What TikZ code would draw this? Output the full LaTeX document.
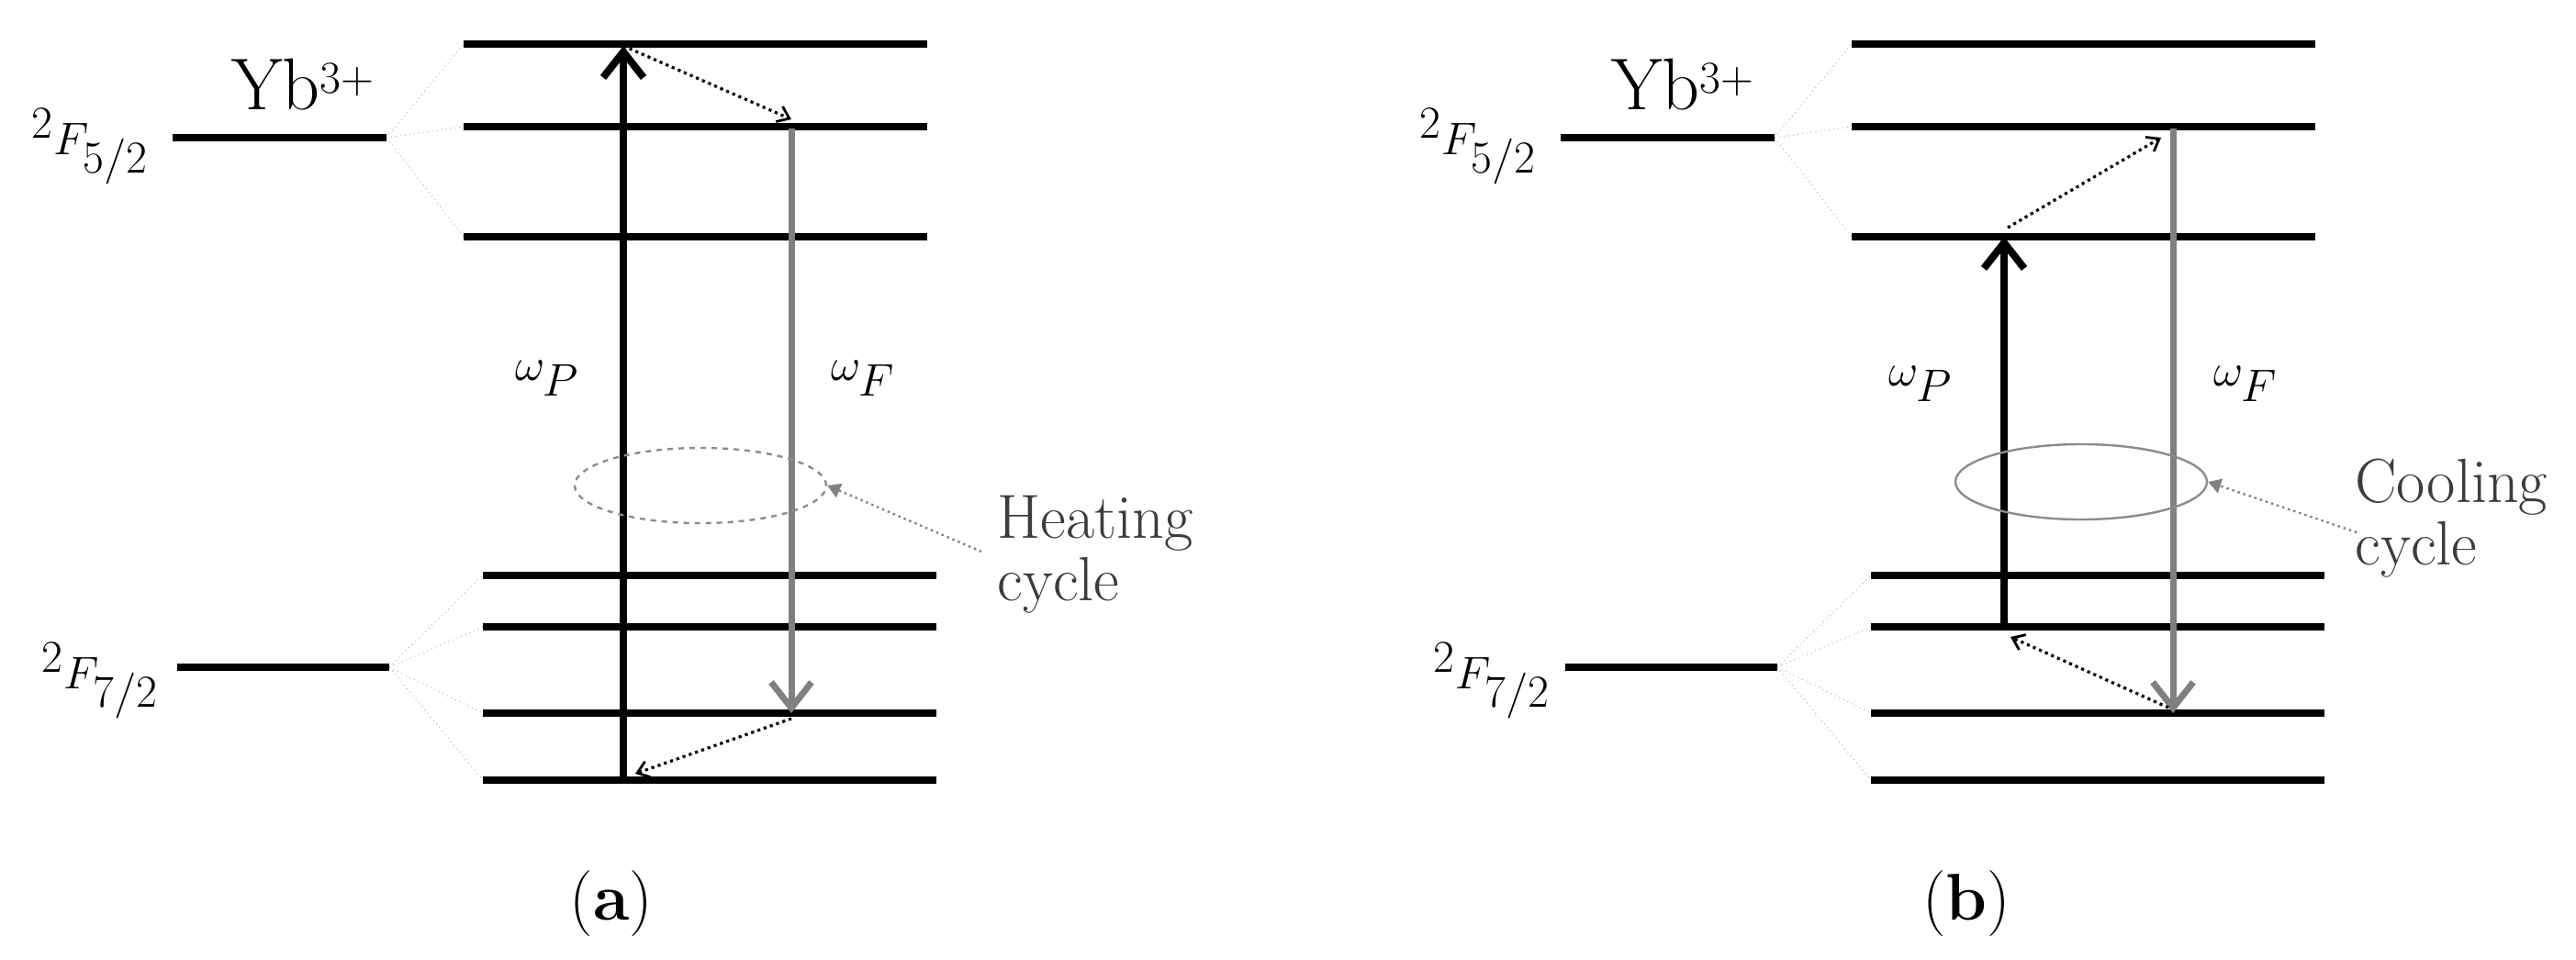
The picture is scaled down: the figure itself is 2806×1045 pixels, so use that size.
\documentclass[tikz,border=0pt]{standalone}
\usetikzlibrary{arrows.meta,shapes.geometric}
\tikzset{
  lvl/.style={line width=4pt},
  split/.style={line width=0.5pt, draw={rgb,255:red,150;green,180;blue,215}, dotted},
  pump/.style={line width=4pt, -{Straight Barb[length=14pt,width=22pt,line width=4pt]}},
  fluo/.style={line width=3.5pt, draw={rgb,255:red,128;green,128;blue,128}, -{Straight Barb[length=14pt,width=22pt,line width=3.5pt]}},
  relax/.style={line width=1.6pt, dotted, -{Straight Barb[length=6pt,width=9pt,line width=1.4pt]}},
  pointer/.style={line width=1.2pt, dotted, draw={rgb,255:red,130;green,130;blue,130}, -{Triangle[length=7pt,width=8pt]}},
  lab/.style={font=\fontsize{40}{48}\selectfont, inner sep=0pt},
  wlab/.style={font=\fontsize{40}{48}\selectfont, inner sep=0pt},
  cyc/.style={font=\fontsize{34}{40}\selectfont, align=left, inner sep=0pt, text={rgb,255:red,60;green,60;blue,60}},
  ell/.style={line width=1.2pt, draw={rgb,255:red,140;green,140;blue,140}, ellipse, minimum width=137pt, minimum height=41pt},
  captxt/.style={font=\fontsize{36}{44}\selectfont, inner sep=0pt}
}
\begin{document}
\begin{tikzpicture}[x=0.5pt,y=-0.5pt]
\useasboundingbox (0,0) rectangle (2806,1045);
\foreach \s/\p in {0/a,1512/b}{
  \begin{scope}[xshift=\s*0.5pt]
    \coordinate (\p F5) at (421,150);
    \coordinate (\p F7) at (424,727);
    \draw[lvl] (188,150) -- (\p F5);
    \draw[lvl] (193,727) -- (\p F7);
    \foreach \y/\n in {48/1,138/2,258/3}{
      \coordinate (\p U\n) at (505,\y);
      \draw[lvl] (\p U\n) -- (1010,\y);
      \draw[split] (\p F5) -- (\p U\n);
    }
    \foreach \y/\n in {627/1,683/2,777/3,850/4}{
      \coordinate (\p L\n) at (526,\y);
      \draw[lvl] (\p L\n) -- (1020,\y);
      \draw[split] (\p F7) -- (\p L\n);
    }
  \end{scope}
}
% labels panel a
\node[lab] (yba) at (330,92) {Yb$^{3+}$};
\node[lab] (f5a) at (98,160) {$^2F_{5/2}$};
\node[lab] (f7a) at (109,742) {$^2F_{7/2}$};
\node[wlab] (wpa) at (596,412) {$\omega_P$};
\node[wlab] (wfa) at (940,412) {$\omega_F$};
\node[captxt] (capa) at (666,985) {(\textbf{a})};
% labels panel b
\node[lab] (ybb) at (1833,92) {Yb$^{3+}$};
\node[lab] (f5b) at (1610,160) {$^2F_{5/2}$};
\node[lab] (f7b) at (1625,742) {$^2F_{7/2}$};
\node[wlab] (wpb) at (2092,418) {$\omega_P$};
\node[wlab] (wfb) at (2446,418) {$\omega_F$};
\node[captxt] (capb) at (2142,985) {(\textbf{b})};
% panel a arrows
\coordinate (pa0) at (679,852);
\coordinate (pa1) at (679,50);
\coordinate (fa0) at (862,140);
\coordinate (fa1) at (862,777);
\coordinate (ra1) at (862,130);
\coordinate (ra2) at (862,783);
\coordinate (ra3) at (692,843);
\draw[pump] (pa0) -- (pa1);
\draw[fluo] (fa0) -- (fa1);
\draw[relax] (pa1) -- (ra1);
\draw[relax] (ra2) -- (ra3);
\node[ell, draw, dashed] (ella) at (763,529) {};
\node[cyc, anchor=north west] (heat) at (1086,540) {Heating\\[-6pt]cycle};
\coordinate (hta) at (1069,601);
\draw[pointer] (hta) -- (ella.east);
% panel b arrows
\coordinate (pb0) at (2183,683);
\coordinate (pb1) at (2183,258);
\coordinate (fb0) at (2367,140);
\coordinate (fb1) at (2367,777);
\coordinate (rb0) at (2187,248);
\coordinate (rb1) at (2354,150);
\coordinate (rb2) at (2362,771);
\coordinate (rb3) at (2190,694);
\draw[pump] (pb0) -- (pb1);
\draw[fluo] (fb0) -- (fb1);
\draw[relax] (rb0) -- (rb1);
\draw[relax] (rb2) -- (rb3);
\node[ell, draw] (ellb) at (2267,525) {};
\node[cyc, anchor=north west] (cool) at (2565,500) {Cooling\\[-6pt]cycle};
\coordinate (htb) at (2567,580);
\draw[pointer] (htb) -- (ellb.east);
\end{tikzpicture}
\end{document}
